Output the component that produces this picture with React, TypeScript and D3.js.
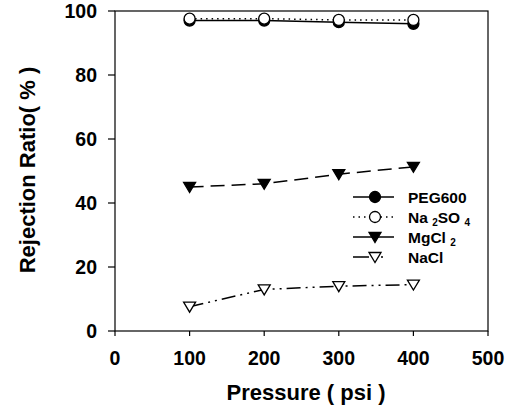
import React from "react";
import * as d3 from "d3";

const pressures = [100, 200, 300, 400];
const peg600 = [97, 97, 96.5, 96];
const na2so4 = [97.6, 97.6, 97.2, 97.2];
const mgcl2 = [45, 46, 49, 51.3];
const nacl = [7.6, 13, 14, 14.5];
const xTicks = [0, 100, 200, 300, 400, 500];
const yTicks = [0, 20, 40, 60, 80, 100];

const W = 515, H = 409;
const m = { left: 115, right: 488, top: 11, bottom: 331 };

export default function App() {
  const x = d3.scaleLinear().domain([0, 500]).range([m.left, m.right]);
  const y = d3.scaleLinear().domain([0, 100]).range([m.bottom, m.top]);
  const line = d3.line<[number, number]>().x(d => x(d[0])).y(d => y(d[1]));
  const font = "Liberation Sans, Arial, sans-serif";

  const series = [
    { name: "PEG600", vals: peg600, dash: "none", marker: "circle", fill: "#000" },
    { name: "Na2SO4", vals: na2so4, dash: "1.5 4", marker: "circle", fill: "#fff" },
    { name: "MgCl2", vals: mgcl2, dash: "14 7", marker: "tri", fill: "#000" },
    { name: "NaCl", vals: nacl, dash: "14 5 2 5 2 5", marker: "tri", fill: "#fff" },
  ];

  const marker = (s: any, cx: number, cy: number, key: string) =>
    s.marker === "circle" ? (
      <circle key={key} cx={cx} cy={cy} r={5.5} fill={s.fill} stroke="#000" strokeWidth={1.3} />
    ) : (
      <path key={key} d={`M${cx - 6},${cy - 4.5}L${cx + 6},${cy - 4.5}L${cx},${cy + 5.5}Z`} fill={s.fill} stroke="#000" strokeWidth={1.3} />
    );

  const legendRows = [
    { s: series[0], y: 197, label: <tspan>PEG600</tspan> },
    { s: series[1], y: 217, label: <><tspan>Na </tspan><tspan fontSize={10} dy={3.5}>2</tspan><tspan dy={-3.5}>SO </tspan><tspan fontSize={10} dy={3.5}>4</tspan></> },
    { s: series[2], y: 237, label: <><tspan>MgCl </tspan><tspan fontSize={10} dy={3.5}>2</tspan></> },
    { s: series[3], y: 257, label: <tspan>NaCl</tspan> },
  ];

  return (
    <svg width={W} height={H} style={{ position: "absolute", left: 0, top: 0, background: "#fff" }}>
      <rect x={m.left} y={m.top} width={m.right - m.left} height={m.bottom - m.top} fill="none" stroke="#000" strokeWidth={1.2} />
      {yTicks.map(t => (
        <g key={"y" + t}>
          <line x1={m.left - 7} x2={m.left} y1={y(t)} y2={y(t)} stroke="#000" strokeWidth={1.2} />
          <text x={97} y={y(t)} dy="0.36em" textAnchor="end" fontFamily={font} fontWeight="bold" fontSize={19.5}>{t}</text>
        </g>
      ))}
      {xTicks.map(t => (
        <g key={"x" + t}>
          <line x1={x(t)} x2={x(t)} y1={m.bottom} y2={m.bottom + 5} stroke="#000" strokeWidth={1.2} />
          <text x={x(t)} y={358} dy="0.36em" textAnchor="middle" fontFamily={font} fontWeight="bold" fontSize={19.5}>{t}</text>
        </g>
      ))}
      <text x={306} y={392} dy="0.36em" textAnchor="middle" fontFamily={font} fontWeight="bold" fontSize={22}>Pressure ( psi )</text>
      <text transform={`translate(27,170) rotate(-90)`} dy="0.36em" textAnchor="middle" fontFamily={font} fontWeight="bold" fontSize={22}>Rejection Ratio( % )</text>
      {series.map(s => (
        <path key={s.name} d={line(pressures.map((p, i) => [p, s.vals[i]]) as [number, number][]) || ""} fill="none" stroke="#000" strokeWidth={1.5} strokeDasharray={s.dash} />
      ))}
      {series.map(s => pressures.map((p, i) => marker(s, x(p), y(s.vals[i]), s.name + i)))}
      {legendRows.map(r => (
        <g key={r.s.name}>
          <line x1={353} x2={394} y1={r.y} y2={r.y} stroke="#000" strokeWidth={1.5} strokeDasharray={r.s.name === "MgCl2" ? "none" : r.s.name === "NaCl" ? "16 5 2 5 2" : r.s.dash} />
          {marker(r.s, 375, r.y, r.s.name + "L")}
          <text x={408} y={r.y} dy="0.36em" fontFamily={font} fontWeight="bold" fontSize={15.5}>{r.label}</text>
        </g>
      ))}
    </svg>
  );
}
